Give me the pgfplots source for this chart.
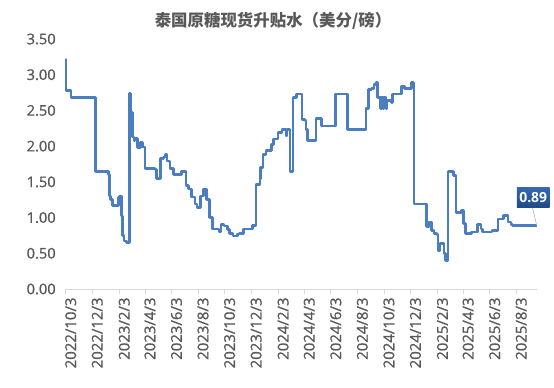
\documentclass[border=0pt]{standalone}
\usepackage{pgfplots}
\pgfplotsset{compat=1.18}
\usepackage{fontspec}
\setmainfont{Open Sans}
\newfontfamily\tickfont{Open Sans}[FakeBold=1.0]
\newfontfamily\cjk{Noto Sans CJK SC}
\definecolor{txt}{HTML}{595959}
\definecolor{ser}{HTML}{4A7EC0}
\definecolor{lblA}{HTML}{3468B0}
\definecolor{lblB}{HTML}{1F4A86}
\begin{document}
\begin{tikzpicture}
\path[use as bounding box] (0,0) rectangle (554bp,388bp);
\node[font=\cjk\bfseries\fontsize{16.5}{18}\selectfont, text=txt] at (273bp,367.5bp) {泰国原糖现货升贴水（美分/磅）};
\begin{axis}[
  at={(65.7bp,99bp)}, anchor=south west,
  scale only axis, width=471bp, height=250bp,
  xmin=0, xmax=1082, ymin=0, ymax=3.5,
  axis x line*=bottom, axis y line*=left,
  x axis line style={-, draw=black!15, line width=0.8bp},
  y axis line style={draw=none},
  ytick={0,0.5,1,1.5,2,2.5,3,3.5},
  ytick style={draw=none},
  xtick={0,61,123,182,243,304,365,426,488,548,609,670,731,792,854,913,974,1035},
  xticklabels={2022/10/3,2022/12/3,2023/2/3,2023/4/3,2023/6/3,2023/8/3,2023/10/3,2023/12/3,2024/2/3,2024/4/3,2024/6/3,2024/8/3,2024/10/3,2024/12/3,2025/2/3,2025/4/3,2025/6/3,2025/8/3},
  xtick style={draw=black!15, line width=0.8bp},
  tick align=outside, major tick length=5bp,
  /pgf/number format/assume math mode=true,
  yticklabel style={/pgf/number format/.cd, fixed, fixed zerofill, precision=2, /tikz/.cd, font=\tickfont\fontsize{14.7}{14.7}\selectfont, text=txt, xshift=-1.5bp},
  xticklabel style={rotate=90, anchor=east, font=\tickfont\fontsize{15}{15}\selectfont, text=txt, yshift=-5bp},
  clip=false,
]
\addplot[const plot, color=ser, line width=2.6bp, line join=round] coordinates {
(0,3.22) (1,2.78) (12,2.68) (68,1.645) (98,1.60) (100,1.30) (103,1.25) (107,1.17)
(121,1.28) (123,1.30) (128,1.02) (131,0.75) (134,0.67) (140,0.65)
(146,2.74) (149,2.47) (154,2.13) (157,2.08) (159,2.11) (165,1.98) (172,2.05) (177,1.99)
(182,1.69) (205,1.67) (208,1.55) (218,1.83) (225,1.85) (229,1.88) (233,1.79) (238,1.78)
(240,1.69) (247,1.60) (266,1.645) (276,1.45) (282,1.40) (289,1.29) (297,1.19) (302,1.145)
(310,1.30) (316,1.40) (324,1.25) (331,1.005) (337,0.84) (352,0.80) (357,0.90) (364,0.88)
(371,0.83) (376,0.78) (384,0.74) (394,0.77) (399,0.78) (408,0.84) (429,0.89) (437,1.46)
(446,1.54) (448,1.70) (453,1.88) (460,1.94) (473,2.02) (478,2.10) (488,2.19) (497,2.23)
(506,2.14) (508,2.23) (515,1.645) (522,2.685) (530,2.73) (543,2.37) (550,2.36) (552,2.235)
(555,2.08) (575,2.39) (588,2.28) (620,2.73) (647,2.235) (690,2.53) (695,2.79) (703,2.81)
(708,2.86) (713,2.89) (716,2.685) (721,2.69) (723,2.53) (726,2.69) (729,2.53) (731,2.69)
(736,2.53) (738,2.64) (749,2.61) (751,2.73) (772,2.84) (778,2.81) (795,2.89) (799,2.86)
(800,1.19) (829,0.876) (835,0.94) (841,0.82) (846,0.78) (853,0.76) (855,0.635) (857,0.53)
(860,0.64) (869,0.50) (873,0.40) (878,1.63) (880,1.645) (891,1.59) (897,1.075) (909,1.10)
(914,0.915) (918,0.775) (932,0.80) (946,0.90) (954,0.84) (958,0.80) (979,0.82) (993,0.98)
(1006,1.03) (1016,0.94) (1023,0.90) (1026,0.89) (1082,0.89)
};
\draw[black!30, line width=0.6bp] (axis cs:1072,1.145) -- (axis cs:1082,0.89);
\node[top color=lblA, bottom color=lblB, text=white, font=\bfseries\fontsize{14}{14}\selectfont, inner xsep=2.5bp, inner ysep=3bp, minimum height=20bp] at (axis cs:1074,1.28) {0.89};
\end{axis}
\end{tikzpicture}
\end{document}
